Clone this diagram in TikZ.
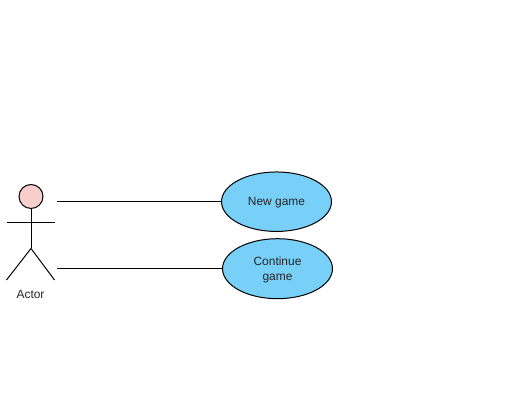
\documentclass[tikz,border=0pt]{standalone}
\usepackage{fontspec}
\setmainfont{Liberation Sans}
\usetikzlibrary{shapes.geometric}

\definecolor{usecaseblue}{HTML}{78CFF7}
\definecolor{headpink}{HTML}{F8CECC}

\tikzset{
    usecase/.style={ellipse,draw=black,fill=usecaseblue,line width=0.567pt,
        minimum width=2.2cm,minimum height=1.19cm,inner sep=0pt,text depth=0pt,
        align=center,font=\fontsize{6.8pt}{8pt}\selectfont,text=black!85},
    link/.style={line width=0.567pt}
}

\begin{document}
\begin{tikzpicture}[x=0.02cm,y=-0.02cm]
    \useasboundingbox (0,0) rectangle (506,404);

    % Actor
    \node[circle,draw=black,fill=headpink,line width=0.567pt,minimum size=0.48cm,inner sep=0pt] (head) at (31,196.5) {};
    \coordinate (armL) at (6.5,222.8);
    \coordinate (armR) at (54.5,222.8);
    \coordinate (hip) at (31,248.5);
    \coordinate (footL) at (6.5,280);
    \coordinate (footR) at (54.5,280);
    \draw[link] (head.south) -- (hip);
    \draw[link] (armL) -- (armR);
    \draw[link] (footL) -- (hip) -- (footR);
    \node[font=\fontsize{6.8pt}{8pt}\selectfont,text=black!85] (actor) at (30.5,294) {Actor};

    % Use cases
    \node[usecase] (newgame) at (276.5,201.7) {New game};
    \node[usecase,minimum height=1.2cm] (continue) at (277.5,268.7) {Continue\\game};

    % Links
    \coordinate (start1) at (57,201.7);
    \coordinate (start2) at (57,268.7);
    \draw[link] (start1) -- (newgame);
    \draw[link] (start2) -- (continue);

\end{tikzpicture}
\end{document}
